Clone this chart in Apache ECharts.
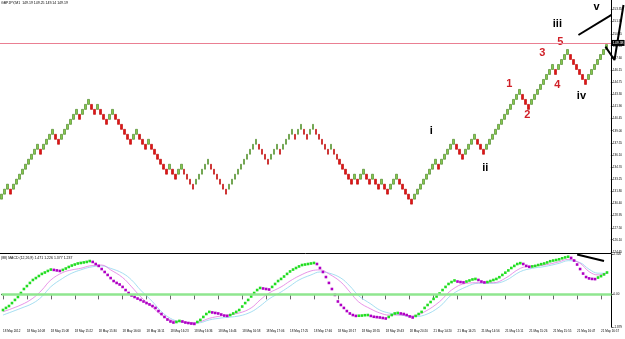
<!DOCTYPE html>
<html>
<head>
<meta charset="UTF-8">
<title>GBPJPY,M1</title>
<script src="https://cdn.jsdelivr.net/npm/echarts@6/dist/echarts.min.js"></script>
<style>html,body{margin:0;padding:0;background:#fff;}</style>
</head>
<body>
<div id="main" style="width:625px;height:339px;"></div>
<script type="text/javascript">
// renko closes, one per brick
var closes = [
	131.49,132.08,132.67,131.49,132.67,133.26,133.85,134.44,135.03,135.62,
	136.21,136.80,137.39,136.21,137.39,137.98,138.57,139.16,137.98,137.39,
	138.57,139.16,139.75,140.34,140.93,141.52,140.34,141.52,142.11,142.70,
	141.52,140.93,142.11,140.93,140.34,139.75,140.93,141.52,140.34,139.75,
	139.16,138.57,137.98,137.39,138.57,139.16,137.98,137.39,136.80,137.98,
	136.80,136.21,135.62,135.03,134.44,133.85,135.03,133.85,133.26,134.44,
	135.03,133.85,133.26,132.67,132.08,133.26,133.85,134.44,135.03,135.62,
	134.44,133.85,133.26,132.67,132.08,131.49,132.67,133.26,133.85,134.44,
	135.03,135.62,136.21,136.80,137.39,137.98,136.80,136.21,135.62,135.03,
	136.21,136.80,137.39,136.21,137.39,137.98,138.57,139.16,137.98,139.16,
	139.75,138.57,137.98,139.16,139.75,138.57,137.98,137.39,136.80,136.21,
	137.39,136.21,135.62,135.03,134.44,133.85,133.26,132.67,133.85,132.67,
	133.85,134.44,133.26,132.67,133.85,132.67,132.08,133.26,132.08,131.49,
	132.67,133.26,133.85,132.67,132.08,131.49,130.90,130.31,131.49,132.08,
	132.67,133.26,133.85,134.44,135.03,135.62,134.44,135.62,136.21,136.80,
	137.39,137.98,136.80,136.21,135.62,136.80,137.39,137.98,138.57,137.39,
	136.80,136.21,137.39,137.98,138.57,139.16,139.75,140.34,140.93,141.52,
	142.11,142.70,143.29,143.88,142.70,142.11,141.52,142.70,143.29,143.88,
	144.47,145.06,145.65,146.24,146.83,145.65,146.83,147.42,148.01,148.60,
	147.42,146.83,146.24,145.65,145.06,144.47,145.65,146.24,146.83,147.42,
	148.01,148.60,149.19
];
var brick = 0.59;
var bidPrice = 149.38;
var priceTicks = [124.65,126.10,127.50,128.95,130.40,131.80,133.25,134.70,136.10,137.55,
	139.00,140.45,141.90,143.30,144.75,146.15,147.60,149.05,150.45,151.90,153.35];
var timeLabels = ['18 May 2012','18 May 14:08','18 May 15:08','18 May 15:22','18 May 15:30',
	'18 May 16:00','18 May 16:11','18 May 16:23','18 May 16:36','18 May 16:46','18 May 16:58',
	'18 May 17:06','18 May 17:25','18 May 17:46','18 May 18:17','18 May 18:55','18 May 19:43',
	'18 May 20:20','21 May 14:20','21 May 14:25','21 May 14:56','21 May 15:11','21 May 15:26',
	'21 May 15:55','21 May 16:47','21 May 16:57'];

// MACD main line (dots), one per bar
var macdDots = [
	-0.90,-0.78,-0.67,-0.50,-0.32,-0.15,0.08,0.31,0.48,0.66,
	0.83,0.94,1.06,1.18,1.26,1.35,1.43,1.41,1.38,1.35,
	1.41,1.49,1.58,1.66,1.72,1.78,1.81,1.84,1.87,1.92,
	1.87,1.75,1.64,1.46,1.29,1.12,0.94,0.77,0.66,0.57,
	0.43,0.25,0.08,-0.06,-0.15,-0.24,-0.32,-0.41,-0.50,-0.58,
	-0.67,-0.78,-0.96,-1.13,-1.30,-1.45,-1.56,-1.62,-1.59,-1.53,
	-1.56,-1.62,-1.65,-1.68,-1.70,-1.59,-1.47,-1.30,-1.13,-1.01,
	-1.04,-1.07,-1.10,-1.16,-1.22,-1.24,-1.19,-1.10,-1.01,-0.90,
	-0.70,-0.50,-0.32,-0.12,0.08,0.25,0.37,0.34,0.31,0.28,
	0.43,0.60,0.77,0.89,1.03,1.18,1.32,1.43,1.52,1.61,
	1.69,1.72,1.75,1.78,1.81,1.75,1.52,1.29,1.00,0.66,
	0.31,-0.03,-0.41,-0.61,-0.78,-0.96,-1.10,-1.19,-1.24,-1.23,
	-1.22,-1.20,-1.19,-1.24,-1.29,-1.31,-1.33,-1.36,-1.39,-1.30,
	-1.19,-1.10,-1.07,-1.10,-1.13,-1.19,-1.27,-1.33,-1.24,-1.13,
	-1.01,-0.78,-0.61,-0.44,-0.26,-0.12,0.05,0.25,0.43,0.60,
	0.71,0.80,0.74,0.71,0.69,0.74,0.80,0.86,0.89,0.83,
	0.74,0.69,0.71,0.77,0.83,0.89,0.99,1.12,1.25,1.38,
	1.52,1.64,1.75,1.80,1.75,1.64,1.59,1.61,1.64,1.69,
	1.74,1.78,1.84,1.91,1.95,1.98,2.02,2.08,2.13,2.17,
	2.10,1.95,1.72,1.46,1.20,1.00,0.92,0.89,0.88,0.97,
	1.05,1.15,1.26
];
// the two thin signal lines, read at these bars
var sigIndex = [0,6,10,13,16,20,23,26,29,33,36,40,43,46,50,53,56,59,63,66,69,73,79,83,86,
	89,93,96,99,103,106,109,113,116,119,123,126,129,133,137,141,146,150,155,159,164,168,
	173,177,181,186,189,193,196,199,202];
var sigPink = [-1.00,-0.61,-0.22,0.25,0.83,1.26,1.41,1.50,1.64,1.69,1.41,0.97,0.44,-0.13,-0.75,
	-1.19,-1.47,-1.57,-1.63,-1.57,-1.38,-1.24,-1.07,-0.78,-0.32,0.08,0.43,0.77,1.06,1.35,
	1.41,1.18,0.71,0.14,-0.44,-0.84,-1.07,-1.19,-1.19,-1.24,-1.00,-0.42,0.25,0.64,0.67,
	0.67,0.93,1.50,1.64,1.69,1.88,2.02,1.79,1.31,1.12,1.22];
var sigCyan = [-1.19,-0.80,-0.51,-0.13,0.44,0.93,1.22,1.41,1.56,1.64,1.50,1.22,0.83,0.25,-0.42,
	-1.00,-1.38,-1.57,-1.66,-1.63,-1.47,-1.36,-1.24,-1.01,-0.67,-0.26,0.14,0.48,0.83,1.12,
	1.29,1.23,0.94,0.48,-0.09,-0.55,-0.90,-1.07,-1.19,-1.28,-1.19,-0.71,-0.03,0.44,0.64,
	0.64,0.79,1.31,1.50,1.60,1.79,1.94,1.83,1.45,1.22,1.22];

// elliott wave labels (bar, price)
var waveText  = ['i', 'ii', '1', '2', '3', '4', '5', 'iii', 'iv', 'v'];
var waveBar   = [143, 161, 169, 175, 180, 185, 186, 185, 193, 198];
var wavePrice = [138.95, 134.57, 144.50, 140.90, 148.17, 144.45, 149.53, 151.62, 143.10, 153.60];
// hand drawn trend lines
var trendA = [[192, 150.32], [203, 152.69]];
var trendB = [[201, 148.94], [204, 147.36], [207, 153.87]];
var macdTrend = [[192, 2.30], [201, 1.92]];

var priceMin = 124.53, priceMax = 154.46;
var macdMin = -1.879, macdMax = 2.326;

var myChart = echarts.init(document.getElementById('main'));

var candles = closes.map(function (c, i) {
	var up = i === 0 || c > closes[i - 1];
	var o = up ? c - brick : c + brick;
	return [o, c, Math.min(o, c), Math.max(o, c)];
});
var bars = [], barsWide = [];
for (var i = 0; i < 204; i++) bars.push(String(i));
for (i = 0; i < 208; i++) barsWide.push(String(i));

var tiny = {fontSize: 3, color: '#000', fontFamily: 'Liberation Sans'};

var option = {
	animation: false,
	backgroundColor: '#fff',
	title: [
		{text: 'GBPJPY,M1  149.19 149.25 149.14 149.19', left: 1, top: 1, padding: 0,
			textStyle: {fontSize: 3.5, fontWeight: 'normal', color: '#000', fontFamily: 'Liberation Sans'}},
		{text: '(88) MACD (12,26,9) 1.471 1.226 1.377 1.237', left: 1, top: 256, padding: 0,
			textStyle: {fontSize: 3.5, fontWeight: 'normal', color: '#000', fontFamily: 'Liberation Sans'}}
	],
	grid: [
		{left: 0, right: 12, top: 0, height: 253},
		{left: 0, right: 12, top: 254, height: 73},
		{left: 0, right: 0, top: 0, height: 253}
	],
	xAxis: [
		{type: 'category', gridIndex: 0, data: bars, boundaryGap: true,
			axisLine: {lineStyle: {color: '#000', width: 1}}, axisTick: {show: false}, axisLabel: {show: false}},
		{type: 'category', gridIndex: 1, data: bars, boundaryGap: true,
			axisLine: {lineStyle: {color: '#000', width: 1}},
			axisTick: {show: true, interval: 7, alignWithLabel: true, length: 5, lineStyle: {color: '#000', width: 0.6}},
			axisLabel: Object.assign({interval: 7, align: 'left', margin: 3,
				formatter: function (v, idx) { return timeLabels[idx / 8] || ''; }}, tiny)},
		{type: 'category', gridIndex: 2, data: barsWide, boundaryGap: true, show: false}
	],
	yAxis: [
		{type: 'value', gridIndex: 0, position: 'right', min: priceMin, max: priceMax, scale: true,
			splitLine: {show: false},
			axisLine: {show: true, lineStyle: {color: '#000', width: 1}},
			axisTick: {show: true, length: 2, customValues: priceTicks, lineStyle: {color: '#000', width: 0.6}},
			axisLabel: Object.assign({customValues: priceTicks, margin: 2,
				formatter: function (v) { return v.toFixed(2); }}, tiny)},
		{type: 'value', gridIndex: 1, position: 'right', min: macdMin, max: macdMax,
			splitLine: {show: false},
			axisLine: {show: true, lineStyle: {color: '#000', width: 1}},
			axisTick: {show: true, length: 2, customValues: [macdMax, 0, macdMin], lineStyle: {color: '#000', width: 0.6}},
			axisLabel: Object.assign({customValues: [macdMax, 0, macdMin], margin: 2,
				formatter: function (v) { return v === 0 ? '0.00' : v.toFixed(3); }}, tiny)},
		{type: 'value', gridIndex: 2, min: priceMin, max: priceMax, show: false}
	],
	series: [
		{
			name: 'renko', type: 'candlestick', xAxisIndex: 0, yAxisIndex: 0,
			data: candles, barWidth: 2.2,
			itemStyle: {color: '#86c84a', color0: '#e01515', borderColor: '#3f7d1f', borderColor0: '#b80000', borderWidth: 0.6},
			markLine: {
				silent: true, symbol: 'none', z: 10,
				data: [{yAxis: bidPrice}],
				lineStyle: {color: '#ea7f92', width: 1.2, type: 'solid', opacity: 1},
				label: {position: 'end', distance: 1, formatter: bidPrice.toFixed(2), color: '#fff',
					backgroundColor: '#000', fontSize: 3.5, padding: [1, 1], fontFamily: 'Liberation Sans'}
			}
		},
		{
			name: 'signal1', type: 'line', xAxisIndex: 1, yAxisIndex: 1, symbol: 'none', smooth: 0.4,
			data: sigIndex.map(function (x, k) { return [x, sigCyan[k]]; }),
			lineStyle: {color: '#8fd6ee', width: 0.8},
			markLine: {
				silent: true, symbol: 'none', label: {show: false},
				data: [{yAxis: 0}],
				lineStyle: {color: '#8fe68f', width: 2.5, type: 'solid', opacity: 1}
			}
		},
		{
			name: 'signal2', type: 'line', xAxisIndex: 1, yAxisIndex: 1, symbol: 'none', smooth: 0.4,
			data: sigIndex.map(function (x, k) { return [x, sigPink[k]]; }),
			lineStyle: {color: '#e27ae2', width: 0.8}
		},
		{
			name: 'macd', type: 'scatter', xAxisIndex: 1, yAxisIndex: 1, z: 4,
			data: macdDots, symbol: 'rect', symbolSize: 2.6,
			itemStyle: {
				opacity: 1,
				color: function (p) {
					var k = p.dataIndex;
					return (k === 0 || macdDots[k] >= macdDots[k - 1]) ? '#22dd22' : '#b000c4';
				}
			}
		},
		{
			name: 'macdTrend', type: 'line', xAxisIndex: 1, yAxisIndex: 1, symbol: 'none', z: 5,
			data: macdTrend, lineStyle: {color: '#000', width: 2}
		},
		{
			name: 'trendA', type: 'line', xAxisIndex: 2, yAxisIndex: 2, symbol: 'none', z: 5,
			data: trendA, lineStyle: {color: '#000', width: 2}
		},
		{
			name: 'trendB', type: 'line', xAxisIndex: 2, yAxisIndex: 2, symbol: 'none', z: 5,
			data: trendB, lineStyle: {color: '#000', width: 2}
		},
		{
			name: 'waves', type: 'scatter', xAxisIndex: 2, yAxisIndex: 2, z: 6,
			symbolSize: 1, itemStyle: {color: 'rgba(0,0,0,0)', opacity: 1},
			data: waveBar.map(function (x, k) {
				var roman = /^[iv]+$/.test(waveText[k]);
				return {
					value: [x, wavePrice[k]],
					label: {show: true, position: 'inside', formatter: waveText[k], fontSize: 11, fontWeight: 'bold',
						opacity: 1, fontFamily: 'Liberation Sans', color: roman ? '#000' : '#d01f27'}
				};
			})
		}
	]
};

myChart.setOption(option);
</script>
</body>
</html>
